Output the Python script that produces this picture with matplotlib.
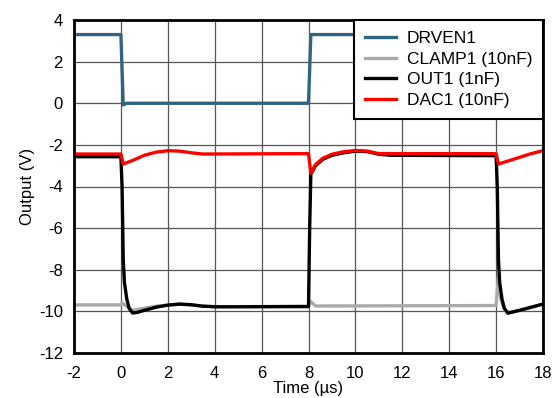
import matplotlib.pyplot as plt

plt.rcParams['font.family'] = ['Liberation Sans', 'DejaVu Sans']
plt.rcParams['axes.unicode_minus'] = False

# DRVEN1
t_drv = [-2, 0.0, 0.1, 0.25, 8.0, 8.1, 16.0, 16.1, 18]
v_drv = [3.3, 3.3, -0.08, 0.0, 0.0, 3.3, 3.3, 0.0, 0.0]

# CLAMP1 (10nF)
t_clamp = [-2, 0.0, 0.05, 0.5, 1.5, 2.5, 3.5, 4.5, 8.0, 8.06, 8.3, 9.0, 16.0,
           16.1, 16.2, 16.35, 16.5, 17.0, 18]
v_clamp = [-9.69, -9.69, -9.6, -9.95, -9.75, -9.65, -9.75, -9.78, -9.75, -9.5, -9.74, -9.74, -9.72,
           -8.3, -9.4, -9.9, -10.1, -9.95, -9.65]

# OUT1 (1nF)
t_out = [-2, 0.0, 0.05, 0.1, 0.15, 0.25, 0.35, 0.5, 0.7, 1.0, 1.5, 2.0, 2.5, 3.0, 3.5, 4.0, 8.0,
         8.05, 8.1, 8.3, 8.6, 9.0, 9.5, 10.0, 10.5, 11.0, 11.5, 16.0,
         16.05, 16.1, 16.15, 16.25, 16.35, 16.5, 17.0, 17.5, 18]
v_out = [-2.57, -2.57, -4.0, -7.5, -8.6, -9.4, -9.85, -10.08, -10.05, -9.95, -9.8, -9.7, -9.65, -9.68, -9.75, -9.78, -9.77,
         -6.0, -3.4, -3.0, -2.7, -2.5, -2.38, -2.3, -2.32, -2.45, -2.5, -2.52,
         -4.0, -7.5, -8.6, -9.4, -9.85, -10.08, -9.95, -9.8, -9.65]

# DAC1 (10nF)
t_dac = [-2, 0.0, 0.1, 0.5, 1.0, 1.5, 2.0, 2.5, 3.0, 3.5, 8.0,
         8.1, 8.3, 8.6, 9.0, 9.5, 10.0, 10.5, 11.0, 16.0,
         16.1, 16.5, 17.0, 17.5, 18]
v_dac = [-2.44, -2.44, -2.92, -2.75, -2.5, -2.35, -2.28, -2.3, -2.38, -2.44, -2.42,
         -3.36, -2.95, -2.65, -2.45, -2.33, -2.27, -2.3, -2.42, -2.42,
         -2.92, -2.78, -2.6, -2.42, -2.28]

fig = plt.figure(figsize=(5.53, 3.98), dpi=100)
ax = fig.add_axes([74 / 553, 1 - 353 / 398, 469 / 553, 333 / 398])

ax.plot(t_drv, v_drv, color='#2f6580', lw=2.4, label='DRVEN1')
ax.plot(t_clamp, v_clamp, color='#aaaaaa', lw=2.4, label='CLAMP1 (10nF)')
ax.plot(t_out, v_out, color='black', lw=2.4, label='OUT1 (1nF)')
ax.plot(t_dac, v_dac, color='#ff0000', lw=2.4, label='DAC1 (10nF)')

ax.set_xlim(-2, 18)
ax.set_ylim(-12, 4)
ax.set_xticks(range(-2, 19, 2))
ax.set_yticks(range(-12, 5, 2))
ax.grid(True, color='#555555', lw=0.9)
ax.set_axisbelow(True)
ax.tick_params(length=0, labelsize=12)
ax.tick_params(axis='x', pad=9)
ax.tick_params(axis='y', pad=8)
for s in ax.spines.values():
    s.set_linewidth(2)

ax.set_xlabel('Time (µs)', fontsize=12, labelpad=0)
ax.set_ylabel('Output (V)', fontsize=12, labelpad=3)

leg = ax.legend(loc='upper right', borderaxespad=0, fancybox=False, framealpha=1,
                edgecolor='black', fontsize=12.5, handlelength=1.8, handletextpad=0.63,
                labelspacing=0.32, borderpad=0.62)
leg.get_frame().set_linewidth(1.5)

fig.savefig('out.png', dpi=100)
